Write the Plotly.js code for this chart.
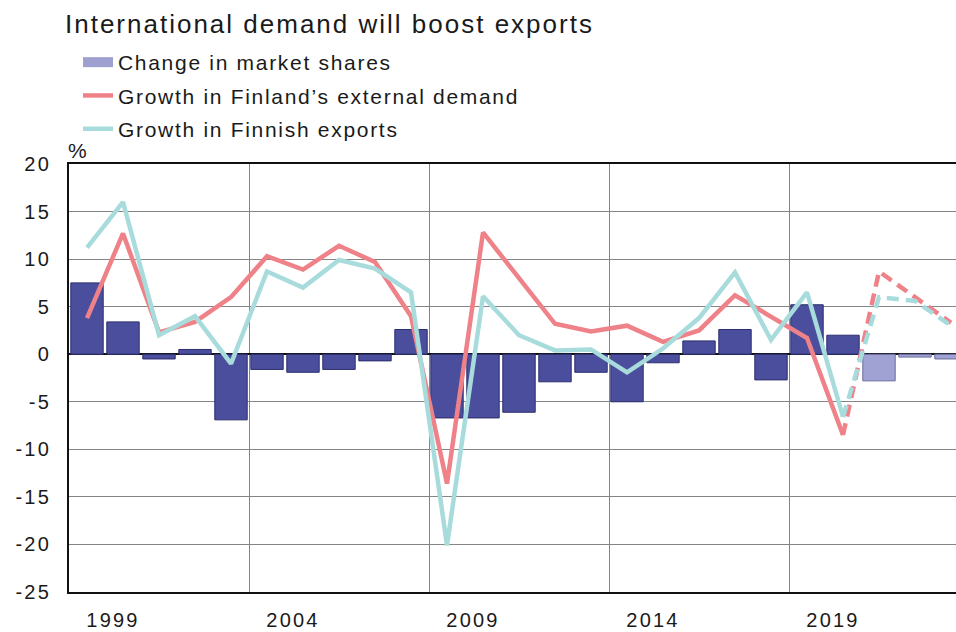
<!DOCTYPE html>
<html>
<head>
<meta charset="utf-8">
<script src="https://cdn.plot.ly/plotly-3.0.1.min.js"></script>
<style>
html,body{margin:0;padding:0;background:#fff;}
#chart{width:956px;height:632px;}
.gtitle{letter-spacing:2px;}
.legendtext{letter-spacing:1.7px;}
.xtick text,.ytick text{letter-spacing:2.2px;}
.annotation-text{letter-spacing:1px;}
</style>
</head>
<body>
<div id="chart"></div>
<script>
// Years 1999-2023; 2021-2023 are forecasts
const years = [1999,2000,2001,2002,2003,2004,2005,2006,2007,2008,2009,2010,2011,2012,2013,2014,2015,2016,2017,2018,2019,2020,2021,2022,2023];
const marketShares = [7.5,3.4,-0.5,0.5,-6.9,-1.6,-1.9,-1.6,-0.7,2.6,-6.7,-6.7,-6.1,-2.9,-1.9,-5.0,-0.9,1.4,2.6,-2.7,5.2,2.0,-2.8,-0.3,-0.5];
const externalDemand = [3.8,12.7,2.3,3.4,6.0,10.3,8.9,11.4,9.7,4.0,-13.6,12.8,8.0,3.2,2.4,3.0,1.3,2.5,6.2,3.9,1.7,-8.5,8.7,6.0,3.3];
const finnishExports = [11.2,16.0,2.0,4.0,-1.0,8.7,7.0,9.9,9.0,6.5,-20.1,6.1,2.0,0.4,0.5,-1.9,0.6,3.8,8.6,1.5,6.5,-6.6,6.0,5.6,3.0];
const firstForecastYear = 2021;
const tickYears = [1999,2004,2009,2014,2019];
const yTicks = [20,15,10,5,0,-5,-10,-15,-20,-25];

const fi = years.indexOf(firstForecastYear);
const hist = a => a.slice(0, fi);
const fc = a => a.slice(fi);
const fcLine = a => a.slice(fi - 1);

const darkBar = '#4b4d9d', lightBar = '#a0a2d4';
const red = '#ef8188', cyan = '#a8dcdc';

const traces = [
  // legend-only entry for the bars (wide swatch like the original)
  {type:'scatter', mode:'lines', x:[null], y:[null], name:'Change in market shares', legendgroup:'a',
   line:{color:'#9ea0d0', width:14}, hoverinfo:'skip'},
  {type:'bar', x: hist(years), y: hist(marketShares), width:0.9, name:'Change in market shares', showlegend:false, legendgroup:'a',
   marker:{color:darkBar, line:{color:'#2c2e6e', width:1}}},
  {type:'bar', x: fc(years), y: fc(marketShares), width:0.9, name:'Change in market shares', showlegend:false, legendgroup:'a',
   marker:{color:lightBar, line:{color:'#6a6c9e', width:1}}},
  {type:'scatter', mode:'lines', x: hist(years), y: hist(externalDemand), name:'Growth in Finland\u2019s external demand', legendgroup:'b',
   line:{color:red, width:4.5}},
  {type:'scatter', mode:'lines', x: fcLine(years), y: fcLine(externalDemand), showlegend:false, legendgroup:'b',
   line:{color:red, width:4.5, dash:'12px,7px'}},
  {type:'scatter', mode:'lines', x: hist(years), y: hist(finnishExports), name:'Growth in Finnish exports', legendgroup:'c',
   line:{color:cyan, width:4.5}},
  {type:'scatter', mode:'lines', x: fcLine(years), y: fcLine(finnishExports), showlegend:false, legendgroup:'c',
   line:{color:cyan, width:4.5, dash:'12px,7px'}}
];

const font = 'Liberation Sans, Arial, sans-serif';
const plotTop = 164, plotH = 428;
const layout = {
  width:956, height:632,
  margin:{l:69, r:0, t:plotTop, b:632-plotTop-plotH},
  paper_bgcolor:'#fff', plot_bgcolor:'#fff',
  font:{family:font, size:20, color:'#1a1a1a'},
  barmode:'overlay',
  title:{text:'International demand will boost exports', font:{family:font, size:26, color:'#1a1a1a'},
         x:65/956, xref:'container', xanchor:'left', y:1-24/632, yref:'container', yanchor:'middle'},
  legend:{x:9/887, xref:'paper', y:1+(plotTop-42)/plotH, yref:'paper', xanchor:'left', yanchor:'top',
          orientation:'v', traceorder:'grouped', tracegroupgap:3, bgcolor:'rgba(0,0,0,0)',
          font:{family:font, size:21, color:'#1a1a1a'}, itemwidth:30},
  xaxis:{range:[1998.5, 1998.5 + 887/36], tickmode:'array',
         tickvals: tickYears.map(y => y - 0.5), ticktext: tickYears.map(String),
         ticklabelshift:44, ticklabelstandoff:9, ticks:'', showgrid:true, gridcolor:'#858585', gridwidth:1,
         showline:true, linecolor:'#111', linewidth:2, mirror:true, zeroline:false,
         tickfont:{size:20}, fixedrange:true},
  yaxis:{range:[-25,20], tickmode:'array', tickvals:yTicks, ticktext:yTicks.map(String), ticks:'', ticklabelstandoff:12,
         showgrid:true, gridcolor:'#858585', gridwidth:1,
         showline:true, linecolor:'#111', linewidth:2, mirror:false,
         zeroline:true, zerolinecolor:'#111', zerolinewidth:2, tickfont:{size:20}, fixedrange:true},
  annotations:[{text:'%', xref:'paper', yref:'paper', x:0, y:1, xshift:-3, yshift:0,
                xanchor:'left', yanchor:'bottom', showarrow:false, font:{family:font, size:21, color:'#1a1a1a'}}]
};

Plotly.newPlot('chart', traces, layout, {displayModeBar:false, staticPlot:true});
</script>
</body>
</html>
